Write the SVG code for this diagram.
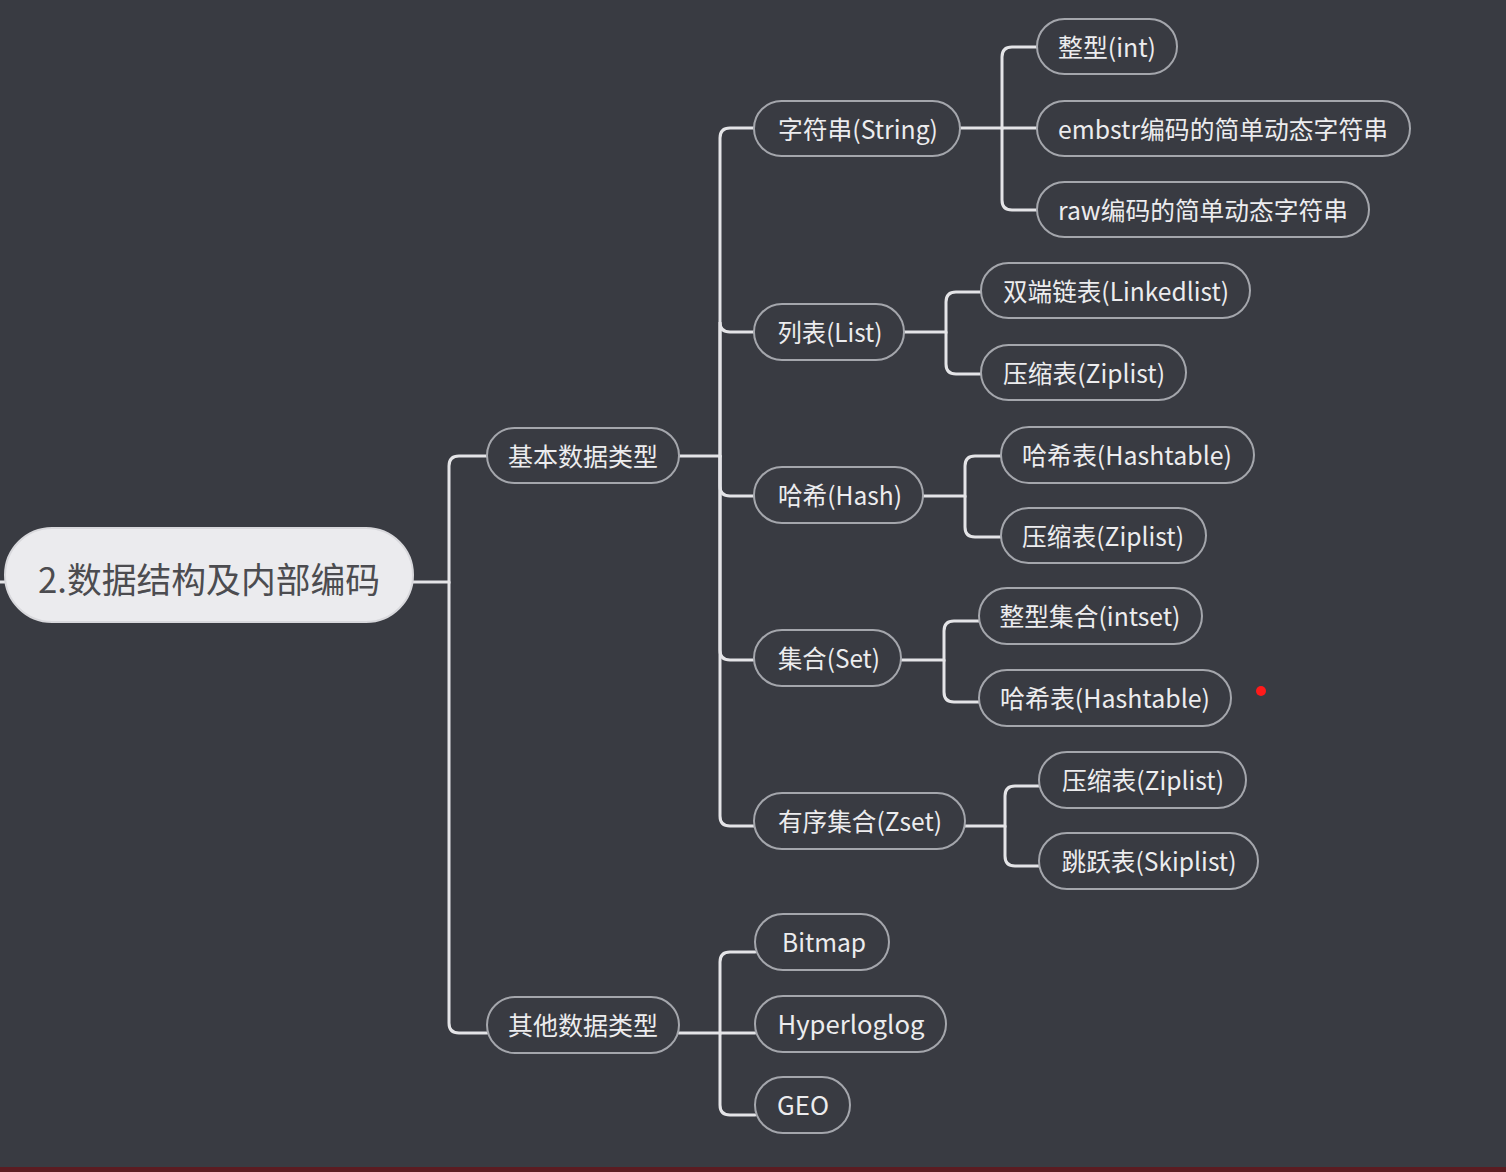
<svg xmlns="http://www.w3.org/2000/svg" width="1506" height="1172" viewBox="0 0 1506 1172">
<style>
.bg{fill:#393b42}
.n rect{fill:#393b42;stroke:#a4a6ac;stroke-width:2}
.n text{fill:#ececee;font-family:"Noto Sans CJK SC","Noto Sans",sans-serif;font-size:25px;text-anchor:middle;dominant-baseline:central}
.root rect{fill:#ebebee;stroke:#d8d8dc;stroke-width:2}
.root text{fill:#4c4c50;font-family:"Noto Sans CJK SC","Noto Sans",sans-serif;font-size:35px;text-anchor:middle;dominant-baseline:central}
.c path{fill:none;stroke:#e4e4e7;stroke-width:3;stroke-linecap:round}
</style>
<rect class="bg" x="0" y="0" width="1506" height="1172"/>
<rect x="0" y="1167" width="1506" height="5" fill="#5b1c22"/>
<g class="c" id="connectors">
<path d="M0,582 H5"/>
<path d="M413,582 H449 V466 Q449,456 459,456 H487"/>
<path d="M449,582 V1023 Q449,1033 459,1033 H487"/>
<path d="M679,456 H720 V138 Q720,128 730,128 H754"/>
<path d="M720,456 V322 Q720,332 730,332 H754"/>
<path d="M720,456 V486 Q720,496 730,496 H754"/>
<path d="M720,456 V650 Q720,660 730,660 H754"/>
<path d="M720,456 V816 Q720,826 730,826 H754"/>
<path d="M960,128 H1002 V57 Q1002,47 1012,47 H1037"/>
<path d="M1002,128 H1037"/>
<path d="M1002,128 V200 Q1002,210 1012,210 H1037"/>
<path d="M904,332 H946 V302 Q946,292 956,292 H981"/>
<path d="M946,332 V364 Q946,374 956,374 H981"/>
<path d="M923,496 H965 V466 Q965,456 975,456 H1001"/>
<path d="M965,496 V527 Q965,537 975,537 H1001"/>
<path d="M901,660 H944 V631 Q944,621 954,621 H979"/>
<path d="M944,660 V692 Q944,702 954,702 H979"/>
<path d="M965,826 H1005 V796 Q1005,786 1015,786 H1039"/>
<path d="M1005,826 V856 Q1005,866 1015,866 H1039"/>
<path d="M679,1033 H720 V962 Q720,952 730,952 H755"/>
<path d="M720,1033 H755"/>
<path d="M720,1033 V1105 Q720,1115 730,1115 H755"/>
</g>
<g class="root" id="root"><rect x="5" y="528" width="408" height="94" rx="47"/><text x="209" y="577" textLength="342" lengthAdjust="spacingAndGlyphs">2.数据结构及内部编码</text></g>
<g class="n" id="basic"><rect x="487" y="428" width="192" height="55" rx="27.5"/><text x="583" y="455" textLength="150" lengthAdjust="spacingAndGlyphs">基本数据类型</text></g>
<g class="n" id="other"><rect x="487" y="997" width="192" height="56" rx="28"/><text x="583" y="1024" textLength="150" lengthAdjust="spacingAndGlyphs">其他数据类型</text></g>
<g class="n" id="string"><rect x="754" y="101" width="206" height="55" rx="27.5"/><text x="858" y="128" textLength="160" lengthAdjust="spacingAndGlyphs">字符串(String)</text></g>
<g class="n" id="list"><rect x="754" y="304" width="150" height="56" rx="28"/><text x="830" y="331" textLength="105" lengthAdjust="spacingAndGlyphs">列表(List)</text></g>
<g class="n" id="hash"><rect x="754" y="467" width="169" height="56" rx="28"/><text x="840" y="494" textLength="124" lengthAdjust="spacingAndGlyphs">哈希(Hash)</text></g>
<g class="n" id="set"><rect x="754" y="630" width="147" height="56" rx="28"/><text x="829" y="657" textLength="102" lengthAdjust="spacingAndGlyphs">集合(Set)</text></g>
<g class="n" id="zset"><rect x="754" y="793" width="211" height="56" rx="28"/><text x="860" y="820" textLength="164" lengthAdjust="spacingAndGlyphs">有序集合(Zset)</text></g>
<g class="n" id="s-int"><rect x="1037" y="19" width="140" height="55" rx="27.5"/><text x="1107" y="46" textLength="98" lengthAdjust="spacingAndGlyphs">整型(int)</text></g>
<g class="n" id="s-embstr"><rect x="1037" y="101" width="373" height="55" rx="27.5"/><text x="1223" y="128" textLength="330" lengthAdjust="spacingAndGlyphs">embstr编码的简单动态字符串</text></g>
<g class="n" id="s-raw"><rect x="1037" y="182" width="332" height="55" rx="27.5"/><text x="1203" y="209" textLength="290" lengthAdjust="spacingAndGlyphs">raw编码的简单动态字符串</text></g>
<g class="n" id="l-linked"><rect x="981" y="263" width="269" height="55" rx="27.5"/><text x="1116" y="290" textLength="226" lengthAdjust="spacingAndGlyphs">双端链表(Linkedlist)</text></g>
<g class="n" id="l-zip"><rect x="981" y="345" width="205" height="55" rx="27.5"/><text x="1084" y="372" textLength="162" lengthAdjust="spacingAndGlyphs">压缩表(Ziplist)</text></g>
<g class="n" id="h-table"><rect x="1001" y="427" width="253" height="56" rx="28"/><text x="1127" y="454" textLength="210" lengthAdjust="spacingAndGlyphs">哈希表(Hashtable)</text></g>
<g class="n" id="h-zip"><rect x="1001" y="508" width="205" height="55" rx="27.5"/><text x="1103" y="535" textLength="162" lengthAdjust="spacingAndGlyphs">压缩表(Ziplist)</text></g>
<g class="n" id="st-intset"><rect x="979" y="588" width="223" height="56" rx="28"/><text x="1090" y="615" textLength="181" lengthAdjust="spacingAndGlyphs">整型集合(intset)</text></g>
<g class="n" id="st-table"><rect x="979" y="670" width="252" height="56" rx="28"/><text x="1105" y="697" textLength="210" lengthAdjust="spacingAndGlyphs">哈希表(Hashtable)</text></g>
<g class="n" id="z-zip"><rect x="1039" y="752" width="207" height="56" rx="28"/><text x="1143" y="779" textLength="162" lengthAdjust="spacingAndGlyphs">压缩表(Ziplist)</text></g>
<g class="n" id="z-skip"><rect x="1039" y="833" width="219" height="56" rx="28"/><text x="1149" y="860" textLength="175" lengthAdjust="spacingAndGlyphs">跳跃表(Skiplist)</text></g>
<g class="n" id="o-bitmap"><rect x="755" y="914" width="134" height="56" rx="28"/><text x="824" y="941" textLength="84" lengthAdjust="spacingAndGlyphs">Bitmap</text></g>
<g class="n" id="o-hll"><rect x="755" y="996" width="191" height="56" rx="28"/><text x="851" y="1023" textLength="147" lengthAdjust="spacingAndGlyphs">Hyperloglog</text></g>
<g class="n" id="o-geo"><rect x="755" y="1077" width="95" height="56" rx="28"/><text x="803" y="1104" textLength="52" lengthAdjust="spacingAndGlyphs">GEO</text></g>
<circle cx="1261" cy="691" r="5" fill="#ff1a1a"/>
</svg>
